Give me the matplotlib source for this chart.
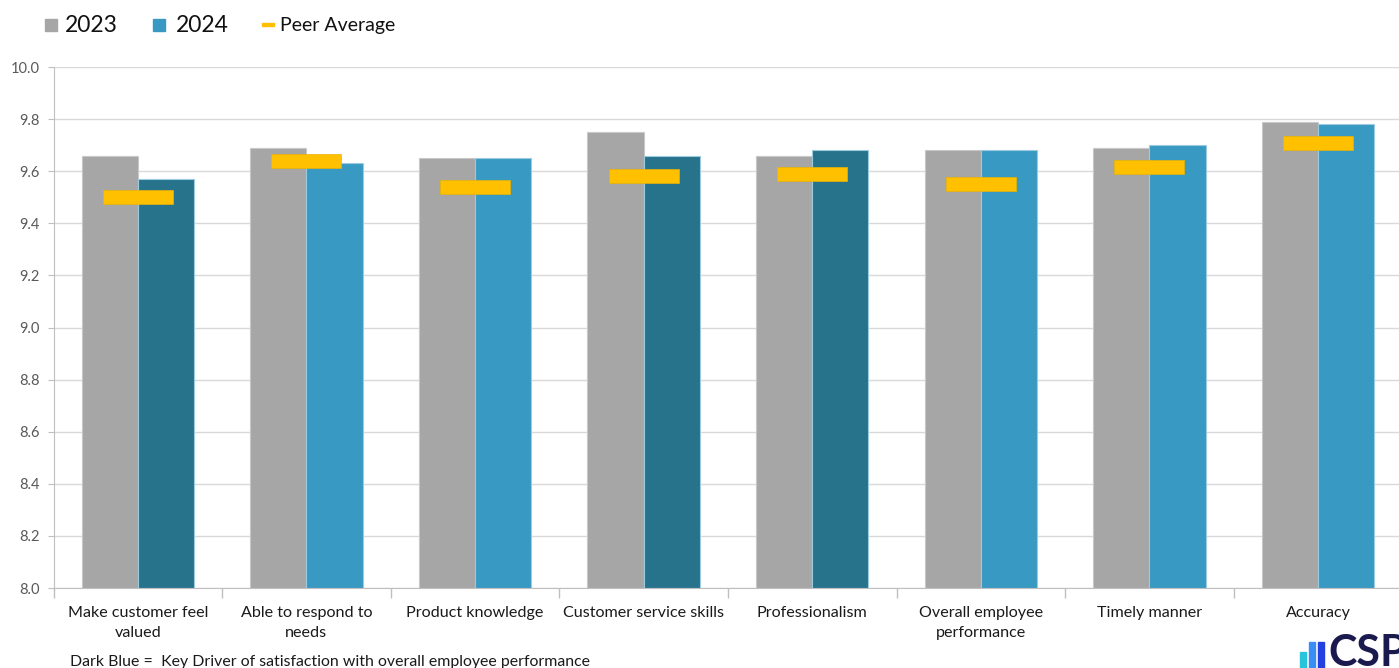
import matplotlib.pyplot as plt
import matplotlib.patches as mpatches
import numpy as np

plt.rcParams['font.family'] = ['Lato', 'DejaVu Sans']

categories = ['Make customer feel\nvalued', 'Able to respond to\nneeds', 'Product knowledge',
              'Customer service skills', 'Professionalism', 'Overall employee\nperformance',
              'Timely manner', 'Accuracy']
scores_2023 = [9.66, 9.69, 9.65, 9.75, 9.66, 9.68, 9.69, 9.79]
scores_2024 = [9.57, 9.63, 9.65, 9.66, 9.68, 9.68, 9.70, 9.78]
peer_avg = [9.50, 9.64, 9.54, 9.58, 9.59, 9.55, 9.615, 9.71]
key_driver = [True, False, False, True, True, False, False, False]

gray = '#A6A6A6'
light_blue = '#3899C3'
dark_blue = '#28738C'
yellow = '#FFC000'

fig = plt.figure(figsize=(13.99, 6.68), dpi=100)
ax = fig.add_axes([53.5 / 1399, 80 / 668, 8 * 168.6 / 1399, 521 / 668])

x = np.arange(len(categories))
w = 0.333
colors_2024 = [dark_blue if k else light_blue for k in key_driver]

ax.bar(x - w / 2, np.array(scores_2023) - 8, w, bottom=8, color=gray,
       edgecolor='#C8C8C8', linewidth=0.8, zorder=2)
ax.bar(x + w / 2, np.array(scores_2024) - 8, w, bottom=8, color=colors_2024,
       edgecolor='#9CCBE0', linewidth=0.8, zorder=2)
# peer average as thick short bars
ax.bar(x, 0.054, 0.415, bottom=np.array(peer_avg) - 0.027, color=yellow,
       edgecolor='#E8B400', linewidth=0.5, zorder=3)

ax.set_ylim(8.0, 10.0)
ax.set_xlim(-0.5, len(categories) - 0.5)
ax.set_yticks(np.arange(8.0, 10.01, 0.2))
ax.set_yticklabels(['%.1f' % v for v in np.arange(8.0, 10.01, 0.2)])
ax.yaxis.grid(True, color='#D9D9D9', linewidth=1.0, zorder=0)
ax.set_axisbelow(True)

ax.set_xticks(x)
ax.set_xticklabels(categories, fontsize=11.6, color='#1A1A1A', linespacing=1.55)
ax.set_xticks(np.arange(-0.5, len(categories), 1.0), minor=True)
ax.tick_params(axis='x', which='major', length=0, pad=13)
ax.tick_params(axis='x', which='minor', length=7, color='#BFBFBF', width=1)
ax.tick_params(axis='y', length=4, color='#BFBFBF', labelsize=10.5, labelcolor='#595959', pad=6)

for s in ['top', 'right']:
    ax.spines[s].set_visible(False)
ax.spines['left'].set_color('#BFBFBF')
ax.spines['bottom'].set_color('#BFBFBF')

# legend drawn by hand
fig.patches.append(mpatches.Rectangle((45 / 1399, 1 - 31 / 668), 12 / 1399, 12 / 668,
                                      transform=fig.transFigure, color=gray))
fig.text(65 / 1399, 1 - 25 / 668, '2023', fontsize=16.5, va='center', color='#111111')
fig.patches.append(mpatches.Rectangle((153 / 1399, 1 - 31 / 668), 12 / 1399, 12 / 668,
                                      transform=fig.transFigure, color=light_blue))
fig.text(176 / 1399, 1 - 25 / 668, '2024', fontsize=16.5, va='center', color='#111111')
fig.patches.append(mpatches.Rectangle((262 / 1399, 1 - 26 / 668), 12 / 1399, 3 / 668,
                                      transform=fig.transFigure, color=yellow))
fig.text(280 / 1399, 1 - 25 / 668, 'Peer Average', fontsize=14, va='center', color='#111111')

fig.text(70 / 1399, 1 - 662 / 668, 'Dark Blue =  Key Driver of satisfaction with overall employee performance',
         fontsize=11.4, va='center', color='#1A1A1A')

# logo
for i, (c, h) in enumerate([('#29C4DC', 16), ('#3A8DF5', 26), ('#2340E0', 26)]):
    fig.patches.append(mpatches.Rectangle(((1300 + i * 9) / 1399, 0), 6 / 1399, h / 668,
                                          transform=fig.transFigure, color=c))
fig.text(1328 / 1399, -5 / 668, 'CSP', fontsize=31, fontweight='bold', color='#1B1A4E',
         va='bottom', ha='left')

fig.savefig('out.png', dpi=100)
